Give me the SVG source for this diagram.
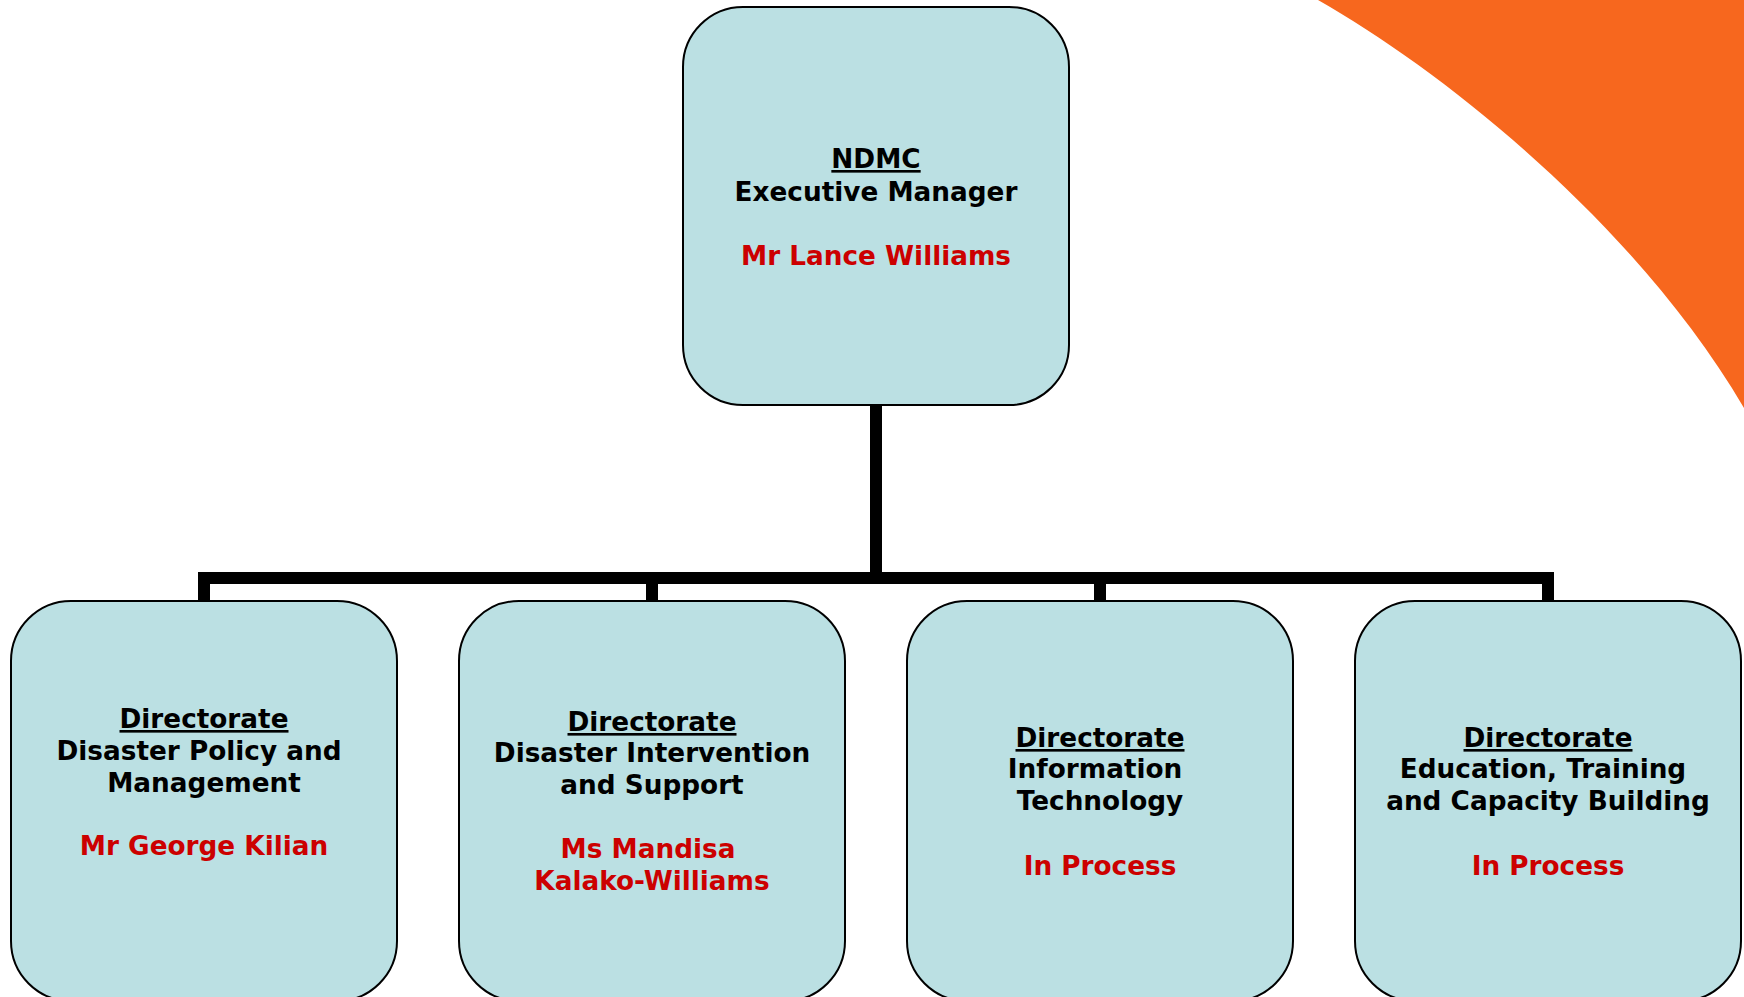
<svg xmlns="http://www.w3.org/2000/svg" width="1744" height="997" viewBox="0 0 1744 997">
<style>
.box{fill:#BBE0E3;stroke:#000;stroke-width:2}
.t{font-family:"DejaVu Sans","Verdana",sans-serif;font-weight:bold;font-size:26.3px;text-anchor:middle;fill:#000}
.u{text-decoration:underline}
.r{fill:#CC0000}
.conn{fill:none;stroke:#000;stroke-width:12;stroke-linejoin:miter;stroke-linecap:butt}
</style>
<rect x="0" y="0" width="1744" height="997" fill="#fff"/>
<path d="M1318,0 C1450,75 1640,230 1744,408 L1744,0 Z" fill="#F7671E"/>
<g id="connectors">
<path class="conn" d="M876,405 V578"/>
<path class="conn" d="M204,601 V578 H1548 V601"/>
<path class="conn" d="M652,578 V601"/>
<path class="conn" d="M1100,578 V601"/>
</g>
<g id="n-ndmc">
<rect class="box" x="683" y="7" width="386" height="398" rx="60" ry="60"/>
<text class="t u" x="876" y="168">NDMC</text>
<text class="t" x="876" y="201">Executive Manager</text>
<text class="t r" x="876" y="265">Mr Lance Williams</text>
</g>
<g id="n-policy">
<rect class="box" x="11" y="601" width="386" height="400" rx="60" ry="60"/>
<text class="t u" x="204" y="728">Directorate</text>
<text class="t" x="199" y="760">Disaster Policy and</text>
<text class="t" x="204" y="792">Management</text>
<text class="t r" x="204" y="855">Mr George Kilian</text>
</g>
<g id="n-intervention">
<rect class="box" x="459" y="601" width="386" height="400" rx="60" ry="60"/>
<text class="t u" x="652" y="731">Directorate</text>
<text class="t" x="652" y="762">Disaster Intervention</text>
<text class="t" x="652" y="794">and Support</text>
<text class="t r" x="648" y="858">Ms Mandisa</text>
<text class="t r" x="652" y="890">Kalako-Williams</text>
</g>
<g id="n-it">
<rect class="box" x="907" y="601" width="386" height="400" rx="60" ry="60"/>
<text class="t u" x="1100" y="747">Directorate</text>
<text class="t" x="1095" y="778">Information</text>
<text class="t" x="1100" y="810">Technology</text>
<text class="t r" x="1100" y="875">In Process</text>
</g>
<g id="n-education">
<rect class="box" x="1355" y="601" width="386" height="400" rx="60" ry="60"/>
<text class="t u" x="1548" y="747">Directorate</text>
<text class="t" x="1543" y="778">Education, Training</text>
<text class="t" x="1548" y="810">and Capacity Building</text>
<text class="t r" x="1548" y="875">In Process</text>
</g>
</svg>
